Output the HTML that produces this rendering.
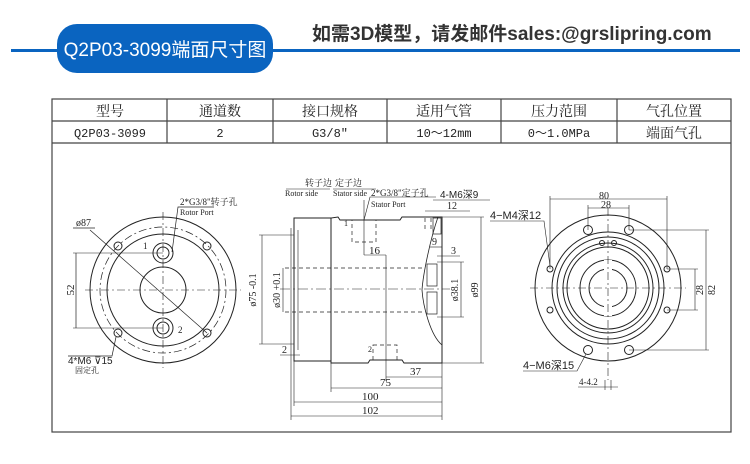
<!DOCTYPE html>
<html><head><meta charset="utf-8"><style>
html,body{margin:0;padding:0;background:#fff;width:750px;height:464px;overflow:hidden}
svg{display:block}
.t{font-family:"Liberation Serif","Noto Serif CJK SC",serif;fill:#222}
.s{font-family:"Liberation Sans","Noto Sans CJK SC",sans-serif;fill:#222}
</style></head><body>
<svg width="750" height="464" viewBox="0 0 750 464" xmlns="http://www.w3.org/2000/svg">
<!-- header -->
<rect x="11" y="49" width="729" height="3" fill="#0a64c0"/>
<rect x="57" y="24" width="216" height="49" rx="20" fill="#0a64c0"/>
<text x="165" y="56" text-anchor="middle" font-family="'Liberation Sans','Noto Sans CJK SC',sans-serif" font-size="19" fill="#fff">Q2P03-3099端面尺寸图</text>
<text x="312" y="40" font-family="'Liberation Sans','Noto Sans CJK SC',sans-serif" font-size="19" font-weight="bold" fill="#333">如需3D模型，请发邮件sales:@grslipring.com</text>
<!-- table -->
<g stroke="#444" stroke-width="1.2" fill="none">
<rect x="52" y="99" width="679" height="333"/>
<line x1="52" y1="121" x2="731" y2="121"/>
<line x1="52" y1="143" x2="731" y2="143"/>
<line x1="167" y1="99" x2="167" y2="143"/>
<line x1="273" y1="99" x2="273" y2="143"/>
<line x1="387" y1="99" x2="387" y2="143"/>
<line x1="501" y1="99" x2="501" y2="143"/>
<line x1="617" y1="99" x2="617" y2="143"/>
</g>
<g class="t" font-size="14" text-anchor="middle">
<text x="110" y="116">型号</text><text x="220" y="116">通道数</text><text x="330" y="116">接口规格</text><text x="444" y="116">适用气管</text><text x="559" y="116">压力范围</text><text x="674" y="116">气孔位置</text>
</g>
<g font-family="'Liberation Mono','Noto Sans CJK SC',monospace" font-size="12" fill="#222" text-anchor="middle">
<text x="110" y="137">Q2P03-3099</text><text x="220" y="137">2</text><text x="330" y="137">G3/8″</text><text x="444" y="137">10～12mm</text><text x="559" y="137">0～1.0MPa</text><text class="t" font-size="14" x="674" y="138">端面气孔</text>
</g>
<!-- left view -->
<g stroke="#222" fill="none" stroke-width="1">
<circle cx="163" cy="290" r="73"/>
<circle cx="163" cy="290" r="63" stroke-dasharray="8 3 2 3" stroke-width="0.7"/>
<circle cx="163" cy="290" r="56"/>
<circle cx="163" cy="290" r="23"/>
<circle cx="163" cy="253" r="10"/><circle cx="163" cy="253" r="6"/>
<circle cx="163" cy="328" r="10"/><circle cx="163" cy="328" r="6"/>
<circle cx="118" cy="246" r="4"/><circle cx="207" cy="246" r="4"/>
<circle cx="118" cy="333" r="4"/><circle cx="207" cy="333" r="4"/>
<g stroke-dasharray="8 3 2 3" stroke-width="0.6"><line x1="163" y1="212" x2="163" y2="368"/><line x1="85" y1="290" x2="241" y2="290"/></g>
<line x1="90" y1="230" x2="207" y2="333" stroke-width="0.7"/>
<line x1="73" y1="228" x2="95" y2="228" stroke-width="0.7"/>
<line x1="76" y1="253" x2="76" y2="328" stroke-width="0.7"/>
<line x1="73" y1="253" x2="163" y2="253" stroke-width="0.6"/>
<line x1="73" y1="328" x2="163" y2="328" stroke-width="0.6"/>
<polyline points="172,252 178,207 214,207" stroke-width="0.7"/>
<polyline points="116,337 112,356 68,356" stroke-width="0.7"/>
</g>
<g class="t" font-size="9">
<text x="180" y="205">2*G3/8"转子孔</text><text x="180" y="215" font-size="8">Rotor Port</text>
<text x="76" y="226" font-size="10">ø87</text>
<text x="143" y="249">1</text><text x="178" y="333">2</text>
<text x="70" y="294" font-size="11" transform="rotate(-90 70 290)" text-anchor="middle">52</text>
<text class="s" x="68" y="364" font-size="10">4*M6 ⊽15</text>
<text x="75" y="373" font-size="8">固定孔</text>
</g>
<!-- middle view -->
<g stroke="#222" fill="none" stroke-width="1">
<rect x="294" y="218" width="37" height="143"/>
<line x1="298" y1="230" x2="298" y2="350" stroke-width="0.6"/>
<path d="M331,218 L331,363 L368,363 L370,360 L402,360 L404,363 L442,363 L442,217 L402,217 L400,220 L340,220 L338,217 Z"/>
<path d="M438,217 C430,240 423,275 422,290 C423,305 430,335 442,345" stroke-width="0.8"/>
<rect x="427" y="264" width="10" height="22" stroke-width="0.7"/>
<rect x="427" y="292" width="10" height="22" stroke-width="0.7"/>
<rect x="433" y="218" width="8" height="16" stroke-width="0.7"/>
<g stroke-dasharray="4 3" stroke-width="0.7"><rect x="352" y="220" width="24" height="22"/><rect x="373" y="345" width="24" height="15"/><line x1="285" y1="268" x2="425" y2="268"/><line x1="285" y1="312" x2="425" y2="312"/><line x1="425" y1="218" x2="425" y2="230"/><line x1="431" y1="218" x2="431" y2="230"/></g>
<line x1="280" y1="289" x2="450" y2="289" stroke-dasharray="10 3 2 3" stroke-width="0.6"/>
<g stroke-width="0.6">
<line x1="262" y1="235" x2="262" y2="344"/><line x1="259" y1="235" x2="294" y2="235"/><line x1="259" y1="344" x2="294" y2="344"/>
<line x1="283" y1="268" x2="283" y2="312"/>
<line x1="481" y1="217" x2="481" y2="363"/><line x1="442" y1="217" x2="484" y2="217"/><line x1="442" y1="363" x2="484" y2="363"/>
<line x1="461" y1="262" x2="461" y2="317"/><line x1="437" y1="262" x2="464" y2="262"/><line x1="437" y1="317" x2="464" y2="317"/>
<line x1="291" y1="228" x2="291" y2="420"/><line x1="294" y1="361" x2="294" y2="406"/><line x1="331" y1="363" x2="331" y2="392"/><line x1="442" y1="363" x2="442" y2="420"/><line x1="386" y1="255" x2="386" y2="381"/>
<line x1="386" y1="377" x2="442" y2="377"/><line x1="331" y1="388" x2="442" y2="388"/><line x1="294" y1="402" x2="442" y2="402"/><line x1="291" y1="416" x2="442" y2="416"/>
<line x1="364" y1="255" x2="386" y2="255"/><line x1="364" y1="200" x2="364" y2="255"/>
<line x1="280" y1="355" x2="300" y2="355"/>
<polyline points="364,220 370,197 436,197"/>
<line x1="286" y1="189" x2="330" y2="189"/><line x1="333" y1="189" x2="376" y2="189"/>
<line x1="425" y1="211" x2="470" y2="211"/><line x1="433" y1="200" x2="490" y2="200"/>
<line x1="430" y1="247" x2="442" y2="247"/><line x1="437" y1="256" x2="460" y2="256"/>
</g></g>
<g class="t" font-size="9">
<text x="305" y="186">转子边</text><text x="335" y="186">定子边</text>
<text x="285" y="196" font-size="8">Rotor side</text><text x="333" y="196" font-size="8">Stator side</text>
<text x="371" y="196">2*G3/8"定子孔</text><text x="371" y="207" font-size="8">Stator Port</text>
<text class="s" x="440" y="198" font-size="10">4-M6深9</text>
<text x="447" y="209" font-size="10">12</text><text x="432" y="245" font-size="10">9</text><text x="451" y="254" font-size="10">3</text>
<text x="344" y="226" font-size="8">1</text><text x="368" y="352" font-size="8">2</text>
<text x="369" y="254" font-size="11">16</text>
<text x="410" y="375" font-size="11">37</text><text x="380" y="386" font-size="11">75</text>
<text x="362" y="400" font-size="11">100</text><text x="362" y="414" font-size="11">102</text>
<text x="282" y="353" font-size="10">2</text>
<text x="256" y="290" font-size="10" transform="rotate(-90 256 290)" text-anchor="middle">ø75 -0.1</text>
<text x="280" y="290" font-size="10" transform="rotate(-90 280 290)" text-anchor="middle">ø30 +0.1</text>
<text x="458" y="290" font-size="10" transform="rotate(-90 458 290)" text-anchor="middle">ø38.1</text>
<text x="478" y="290" font-size="10" transform="rotate(-90 478 290)" text-anchor="middle">ø99</text>
</g>
<!-- right view -->
<g stroke="#222" fill="none" stroke-width="1">
<circle cx="608" cy="288" r="73"/>
<circle cx="608" cy="288" r="56"/>
<circle cx="608" cy="288" r="51"/>
<circle cx="608" cy="288" r="45"/>
<circle cx="608" cy="288" r="41"/>
<circle cx="608" cy="288" r="28"/>
<circle cx="608" cy="288" r="19"/>
<circle cx="588" cy="230" r="4.5"/><circle cx="629" cy="230" r="4.5"/>
<circle cx="588" cy="350" r="4.5"/><circle cx="629" cy="350" r="4.5"/>
<circle cx="550" cy="269" r="3"/><circle cx="667" cy="269" r="3"/>
<circle cx="550" cy="310" r="3"/><circle cx="667" cy="310" r="3"/>
<circle cx="602" cy="243" r="2.5"/><circle cx="614" cy="243" r="2.5"/>
<rect x="604" y="260" width="8" height="10" fill="#fff" stroke="none"/>
<rect x="604" y="306" width="8" height="10" fill="#fff" stroke="none"/>
<g stroke-dasharray="8 3 2 3" stroke-width="0.6"><line x1="608" y1="208" x2="608" y2="380"/><line x1="530" y1="288" x2="686" y2="288"/></g>
<g stroke-width="0.6">
<line x1="550" y1="199" x2="667" y2="199"/><line x1="550" y1="196" x2="550" y2="269"/><line x1="667" y1="196" x2="667" y2="269"/>
<line x1="588" y1="208" x2="629" y2="208"/><line x1="588" y1="205" x2="588" y2="230"/><line x1="629" y1="205" x2="629" y2="230"/>
<line x1="706" y1="230" x2="706" y2="350"/><line x1="629" y1="230" x2="709" y2="230"/><line x1="629" y1="350" x2="709" y2="350"/>
<line x1="695" y1="269" x2="695" y2="310"/><line x1="667" y1="269" x2="698" y2="269"/><line x1="667" y1="310" x2="698" y2="310"/>
<polyline points="490,221 544,221 550,266"/>
<polyline points="523,371 577,371 586,354"/>
<line x1="578" y1="387" x2="618" y2="387"/><line x1="605" y1="380" x2="605" y2="390"/><line x1="611" y1="380" x2="611" y2="390"/>
</g></g>
<g class="s" font-size="11">
<text x="599" y="199" font-size="10" class="t">80</text><text x="601" y="208" font-size="10" class="t">28</text>
<text x="490" y="219">4−M4深12</text>
<text x="523" y="369">4−M6深15</text>
<text x="579" y="385" font-size="9" class="t">4-4.2</text>
<text x="715" y="290" font-size="10" class="t" transform="rotate(-90 715 290)" text-anchor="middle">82</text>
<text x="703" y="290" font-size="10" class="t" transform="rotate(-90 703 290)" text-anchor="middle">28</text>
</g>
</svg>
</body></html>
